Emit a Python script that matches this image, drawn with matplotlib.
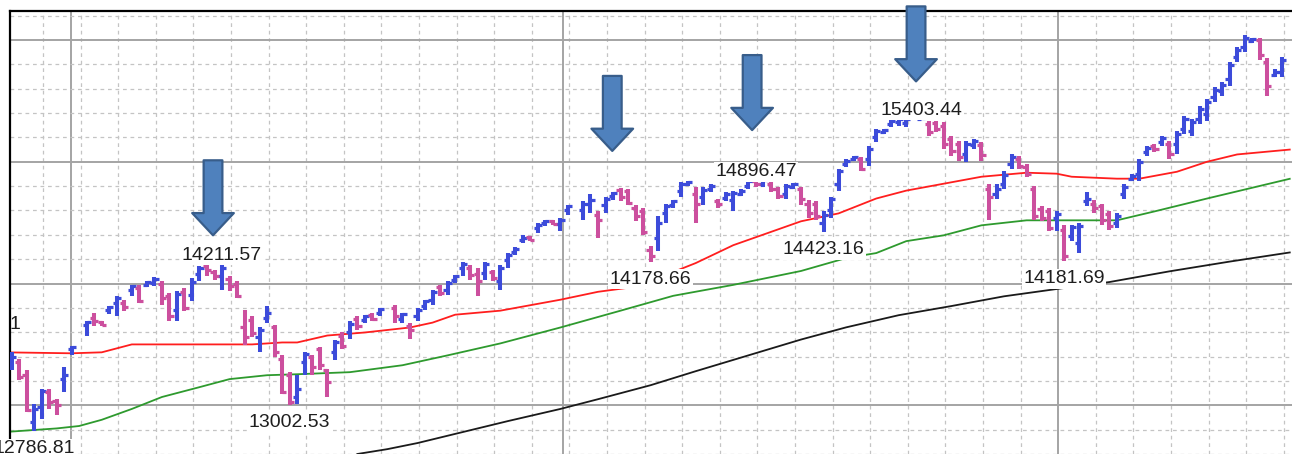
import numpy as np
import matplotlib
matplotlib.use('Agg')
import matplotlib.pyplot as plt

nan = np.nan

# daily OHLC, one slot per trading day, nan = no bar drawn
opens = [13329, 13353, 13247, 12864, 12987, 13109, 13035, 13215, 13459, nan,
         13663, 13720, 13687, 13785, 13842, 13842, 13948, 13965, 13989, 14005,
         13997, 13899, 13785, 13932, 13907, 14079, 14144, 14095, 14062, 14038,
         13997, 13639, 13704, 13557, 13720, 13639, 13378, 13247, 13068, 13353,
         13394, 13459, 13288, 13435, 13573, 13598, 13712, 13704, 13744, 13761,
         nan, 13802, 13712, 13655, 13736, 13818, 13867, 13973, 13948, 14030,
         14128, 14128, 14079, 14087, 14095, 14022, 14193, 14258, 14356, 14380,
         14454, 14494, 14511, 14486, 14600, nan, 14600, 14657, 14559, 14641,
         14722, 14771, 14763, 14617, 14592, 14274, 14372, 14576, 14641, 14763,
         14820, 14739, 14714, 14780, 14674, 14706, 14682, 14739, 14804, 14845,
         14820, 14820, 14780, 14739, 14796, 14780, 14657, 14649, 14494, 14600,
         14820, 14983, 15024, 15024, 15024, 15203, 15244, 15309, 15326, 15317,
         nan, 15350, 15309, 15317, 15293, 15187, 15146, 15065, 15138, 15138,
         14780, 14739, 14820, 14983, 15024, 14959, 14780, 14608, 14592, 14535,
         14437, 14388, 14331, 14674, 14657, 14633, 14568, 14494, 14739, 14861,
         14902, 15081, 15130, 15163, 15146, 15146, 15269, 15252, 15350, 15391,
         15529, 15578, 15676, 15863, 15945, 15994, 16002, 15823, 15709, 15741]

highs = [13435, 13378, 13288, 13011, 13133, 13133, 13052, 13313, 13484, nan,
         13696, 13761, 13696, 13818, 13899, 13867, 13989, 13989, 14022, 14054,
         14022, 13924, 13940, 13965, 14046, 14144, 14160, 14111, 14211.57, 14062,
         14022, 13785, 13736, 13639, 13818, 13663, 13410, 13272, 13247, 13435,
         13410, 13476, 13296, 13533, 13598, 13696, 13736, 13744, 13761, 13802,
         nan, 13826, 13761, 13679, 13802, 13867, 13948, 13989, 14022, 14070,
         14176, 14152, 14128, 14176, 14111, 14152, 14250, 14299, 14396, 14388,
         14494, 14519, 14519, 14535, 14641, nan, 14674, 14739, 14592, 14714,
         14755, 14788, 14780, 14641, 14617, 14307, 14551, 14657, 14682, 14837,
         14845, 14796, 14796, 14820, 14698, 14755, 14763, 14780, 14861, 14896.47,
         14869, 14837, 14796, 14820, 14828, 14796, 14682, 14674, 14592, 14714,
         14943, 15024, 15048, 15040, 15130, 15269, 15269, 15350, 15366, 15366,
         nan, 15403.44, 15334, 15334, 15326, 15211, 15171, 15171, 15187, 15163,
         14820, 14820, 14926, 15065, 15048, 14983, 14804, 14633, 14617, 14592,
         14478, 14478, 14494, 14755, 14682, 14657, 14592, 14576, 14820, 14902,
         15024, 15130, 15146, 15211, 15171, 15252, 15374, 15350, 15456, 15513,
         15611, 15652, 15823, 15945, 16043, 16018, 16018, 15855, 15758, 15863]

lows = [13288, 13207, 12946, 12786.81, 12889, 12970, 12921, 13109, 13410, nan,
        13573, 13655, 13655, 13753, 13736, 13777, 13899, 13842, 13973, 13981,
        13826, 13696, 13696, 13777, 13859, 14022, 14062, 14030, 13948, 13940,
        13883, 13492, 13557, 13435, 13679, 13394, 13092, 13002.53, 13010, 13247,
        13247, 13288, 13068, 13370, 13459, 13541, 13622, 13679, 13696, 13736,
        nan, 13679, 13679, 13541, 13696, 13785, 13826, 13899, 13907, 14005,
        14062, 14030, 13899, 14030, 14022, 13948, 14128, 14233, 14331, 14348,
        14413, 14470, 14478, 14429, 14559, nan, 14519, 14576, 14372, 14576,
        14682, 14674, 14641, 14511, 14396, 14178.66, 14266, 14494, 14617, 14714,
        14804, 14494, 14641, 14755, 14617, 14674, 14592, 14722, 14780, 14796,
        14796, 14755, 14698, 14698, 14780, 14641, 14535, 14519, 14423.16, 14535,
        14763, 14959, 15008, 14926, 14967, 15163, 15228, 15285, 15293, 15285,
        nan, 15342, 15211, 15244, 15106, 15048, 15008, 15000, 15106, 15008,
        14519, 14698, 14780, 14943, 14943, 14877, 14519, 14511, 14429, 14429,
        14181.69, 14348, 14250, 14633, 14576, 14478, 14437, 14454, 14698, 14845,
        14845, 15048, 15081, 15130, 15024, 15065, 15228, 15211, 15309, 15334,
        15489, 15537, 15619, 15823, 15904, 15978, 15839, 15537, 15692, 15700]

closes = [13394, 13231, 12962, 12970, 13117, 13027, 13003, 13247, 13476, nan,
          13687, 13696, 13663, 13810, 13883, 13810, 13981, 13859, 14013, 14038,
          13883, 13736, 13916, 13802, 14013, 14128, 14111, 14062, 14128, 13981,
          13899, 13557, 13590, 13622, 13761, 13435, 13109, 13027, 13133, 13418,
          13313, 13329, 13190, 13516, 13484, 13671, 13655, 13736, 13712, 13793,
          nan, 13736, 13753, 13622, 13785, 13859, 13932, 13924, 14005, 14062,
          14160, 14070, 14022, 14160, 14046, 14128, 14233, 14282, 14372, 14356,
          14478, 14511, 14486, 14519, 14633, nan, 14657, 14682, 14519, 14698,
          14747, 14714, 14665, 14551, 14421, 14225, 14494, 14633, 14674, 14820,
          14837, 14657, 14771, 14804, 14649, 14739, 14747, 14763, 14845, 14820,
          14853, 14780, 14722, 14804, 14820, 14698, 14576, 14551, 14559, 14698,
          14926, 15008, 15040, 14943, 15106, 15252, 15260, 15334, 15350, 15350,
          nan, 15358, 15244, 15269, 15146, 15089, 15040, 15146, 15171, 15057,
          14714, 14780, 14894, 15040, 14967, 14902, 14551, 14535, 14454, 14568,
          14225, 14462, 14470, 14698, 14617, 14519, 14470, 14551, 14796, 14885,
          15000, 15114, 15106, 15195, 15065, 15228, 15350, 15326, 15432, 15489,
          15586, 15627, 15798, 15921, 16018, 16010, 15880, 15619, 15741, 15839]

red_days = [-1, 8, 12, 16, 19, 25, 32, 36, 38, 42, 47, 53, 56, 59, 65, 73, 78, 82,
            87, 91, 96, 105, 110, 115, 119, 124, 129, 135, 139, 141, 147, 150, 155,
            159, 163, 170]
red_vals = [13435, 13427, 13435, 13500, 13500, 13500, 13500, 13516, 13516, 13573,
            13598, 13639, 13679, 13744, 13777, 13867, 13932, 13965, 14070, 14168,
            14315, 14511, 14576, 14698, 14763, 14820, 14877, 14910, 14902, 14877,
            14861, 14861, 14918, 15000, 15060, 15100]

green_days = [-1, 6, 9, 12, 16, 20, 25, 29, 34, 38, 45, 52, 58, 65, 73, 81, 88, 96,
              105, 111, 115, 119, 124, 129, 135, 141, 147, 152, 159, 170]
green_vals = [12780, 12810, 12830, 12881, 12970, 13068, 13149, 13215, 13247, 13255,
              13272, 13329, 13410, 13508, 13639, 13777, 13899, 13989, 14103, 14209,
              14250, 14348, 14396, 14478, 14519, 14519, 14519, 14592, 14698, 14860]

black_days = [46, 50, 54, 60, 66, 73, 78, 85, 91, 98, 105, 111, 118, 125, 132, 139,
              146, 154, 162, 170]
black_vals = [12600, 12640, 12690, 12780, 12870, 12970, 13050, 13165, 13280, 13410,
              13540, 13640, 13740, 13815, 13895, 13955, 14012, 14100, 14180, 14255]

peak_days = [28, 99, 121]
trough_days = [3, 37, 85, 108, 140]

arrow_days = [26.8, 79.9, 98.5, 120.3]
arrow_tips = [14396, 15089, 15260, 15660]

BLUE = '#3C4BDA'
PINK = '#CC4F9E'


def draw_bars(ax):
    '''
    Draws open-high-low-close bars, blue when the day closed up
    '''
    days = np.arange(len(opens))
    o, h, l, c = (np.array(v, dtype=float) for v in (opens, highs, lows, closes))
    ok = ~np.isnan(o)
    for mask, col in ((ok & (c >= o), BLUE), (ok & (c < o), PINK)):
        d = days[mask]
        ax.vlines(d, l[mask], h[mask], color=col, lw=2.9, zorder=3)
        ax.hlines(o[mask], d - 0.55, d, color=col, lw=2.3, zorder=3)
        ax.hlines(c[mask], d, d + 0.55, color=col, lw=2.3, zorder=3)


def label_style():
    return dict(textcoords='offset points', ha='center', fontsize=14,
                color='#1E1E1E', zorder=5, annotation_clip=False,
                bbox=dict(boxstyle='square,pad=0.08', fc='white', ec='none'))


plt.rcParams['font.family'] = ['Liberation Sans', 'DejaVu Sans']

fig = plt.figure(figsize=(12.92, 4.54), dpi=100)
ax = fig.add_axes([10 / 1292, 0, 1282 / 1292, 443 / 454])

ax.set_xlim(-0.2, 170.3)
ax.set_ylim(12628, 16238)

ax.set_yticks(np.arange(13000, 16001, 1000))
ax.set_yticks(np.arange(12600, 16201, 200), minor=True)
ax.set_xticks([7.9, 73.3, 139.2])
ax.set_xticks(np.arange(4.2, 171, 5), minor=True)
ax.tick_params(which='both', length=0, labelbottom=False, labelleft=False)
ax.grid(which='minor', color='#C4C4C4', lw=0.9, ls=(0, (3, 3)))
ax.grid(which='major', color='#A4A4A4', lw=1.4)
ax.set_axisbelow(True)

for side in ('right', 'bottom'):
    ax.spines[side].set_visible(False)
for side in ('top', 'left'):
    ax.spines[side].set_linewidth(1.6)
    ax.spines[side].set_color('black')

ax.plot(red_days, red_vals, color='#FF1E1E', lw=1.3, zorder=2)
ax.plot(green_days, green_vals, color='#2E9A2E', lw=1.3, zorder=2)
ax.plot(black_days, black_vals, color='#1A1A1A', lw=1.3, zorder=2)

draw_bars(ax)

for d in peak_days:
    ax.annotate(f'{highs[d]:.2f}', (d, highs[d]), xytext=(0, -1.5), va='baseline',
                **label_style())
for d in trough_days:
    ax.annotate(f'{lows[d]:.2f}', (d, lows[d]), xytext=(0, -6.5), va='top',
                **label_style())

# cut-off label at the left edge
ax.text(1.2, 13663, '1', ha='right', va='center', fontsize=14,
        color='#1E1E1E', clip_on=True)

for x, tip in zip(arrow_days, arrow_tips):
    ax.annotate('', xy=(x, tip), xytext=(0, 54), textcoords='offset points',
                annotation_clip=False, zorder=6,
                arrowprops=dict(arrowstyle='simple,head_length=1.6,head_width=3.0,tail_width=1.35',
                                mutation_scale=10, fc='#4F81BD', ec='#385D8A', lw=1.6,
                                shrinkA=0, shrinkB=0))

fig.savefig('out.png', dpi=100, facecolor='white')
